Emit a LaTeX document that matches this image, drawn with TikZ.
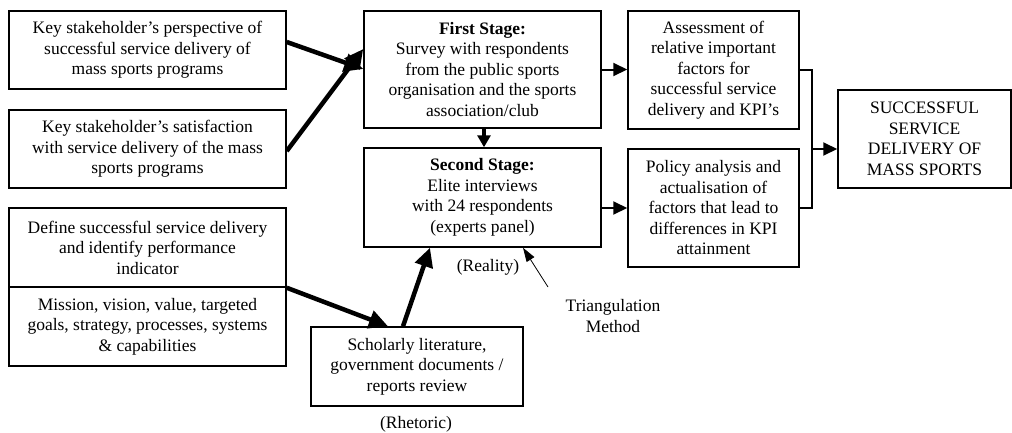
\documentclass[tikz,border=0pt]{standalone}
\usepackage{fontspec}
\setmainfont{Liberation Serif}
\usetikzlibrary{arrows.meta,calc}
\begin{document}
\begin{tikzpicture}[x=1pt,y=-1pt,
  box/.style={draw,line width=1.5pt,inner sep=0pt,align=center,
    font=\fontsize{17.5}{20.5}\selectfont},
  lbl/.style={inner sep=0pt,align=center,font=\fontsize{17.5}{20.5}\selectfont},
  thick arrow/.style={line width=4.5pt,-{Triangle[length=19pt,width=18pt]}},
  mid arrow/.style={line width=2pt,-{Triangle[length=14pt,width=13pt]}},
  down arrow/.style={line width=3.5pt,-{Triangle[length=12pt,width=13pt]}},
  thin arrow/.style={line width=0.8pt,-{Triangle[length=14pt,width=9pt]}},
  link/.style={line width=1.5pt}]
\useasboundingbox (0,0) rectangle (1012,432);
\node[box,minimum width=277pt,minimum height=78pt] (A) at (147.5,50)
  {Key stakeholder’s perspective of\\successful service delivery of\\mass sports programs};
\node[box,minimum width=277pt,minimum height=78pt] (B) at (147.5,149)
  {Key stakeholder’s satisfaction\\with service delivery of the mass\\sports programs};
\node[box,minimum width=277pt,minimum height=79pt] (C1) at (147.5,247.5)
  {Define successful service delivery\\and identify performance\\indicator};
\node[box,minimum width=277pt,minimum height=79pt] (C2) at (147.5,326.5)
  {Mission, vision, value, targeted\\goals, strategy, processes, systems\\\& capabilities};
\node[box,minimum width=237pt,minimum height=117pt] (F) at (482.5,69.5)
  {\textbf{First Stage:}\\Survey with respondents\\from the public sports\\organisation and the sports\\association/club};
\node[box,minimum width=237pt,minimum height=99pt] (S) at (482.5,197.5)
  {\textbf{Second Stage:}\\Elite interviews\\with 24 respondents\\(experts panel)};
\node[box,minimum width=171pt,minimum height=118pt] (P) at (713.5,70)
  {Assessment of\\relative important\\factors for\\successful service\\delivery and KPI’s};
\node[box,minimum width=171pt,minimum height=118pt] (Q) at (713.5,208)
  {Policy analysis and\\actualisation of\\factors that lead to\\differences in KPI\\attainment};
\node[box,minimum width=173pt,minimum height=98pt] (R) at (924.5,139)
  {SUCCESSFUL\\SERVICE\\DELIVERY OF\\MASS SPORTS};
\node[box,minimum width=212pt,minimum height=79pt] (L) at (417,366.5)
  {Scholarly literature,\\government documents /\\reports review};
\node[lbl] (real) at (488,267) {(Reality)};
\node[lbl] (tri) at (613,316) {Triangulation\\Method};
\node[lbl] (rhet) at (416,424) {(Rhetoric)};
\coordinate (J) at (812,149);
\coordinate (T) at (548,287);
% connectors
\draw[thick arrow] ([yshift=8pt]A.east) -- ([yshift=0.5pt]F.west);
\draw[thick arrow] ([yshift=-2pt]B.east) -- ([yshift=20.5pt]F.west);
\draw[down arrow] ([xshift=1.5pt]F.south) -- ([xshift=1.5pt]S.north);
\draw[mid arrow] (F.east) -- (F.east -| P.west);
\draw[mid arrow] (S.east |- Q.west) -- (Q.west);
\draw[link] (P.east) -| (J) |- (Q.east);
\draw[mid arrow] (J) -- (J -| R.west);
\draw[thick arrow] (C1.south east) -- ([xshift=-29pt]L.north);
\draw[thick arrow] ([xshift=-14pt]L.north) -- ([xshift=-52.5pt]S.south);
\draw[thin arrow] (T) -- ([xshift=40.5pt]S.south);
\end{tikzpicture}
\end{document}
